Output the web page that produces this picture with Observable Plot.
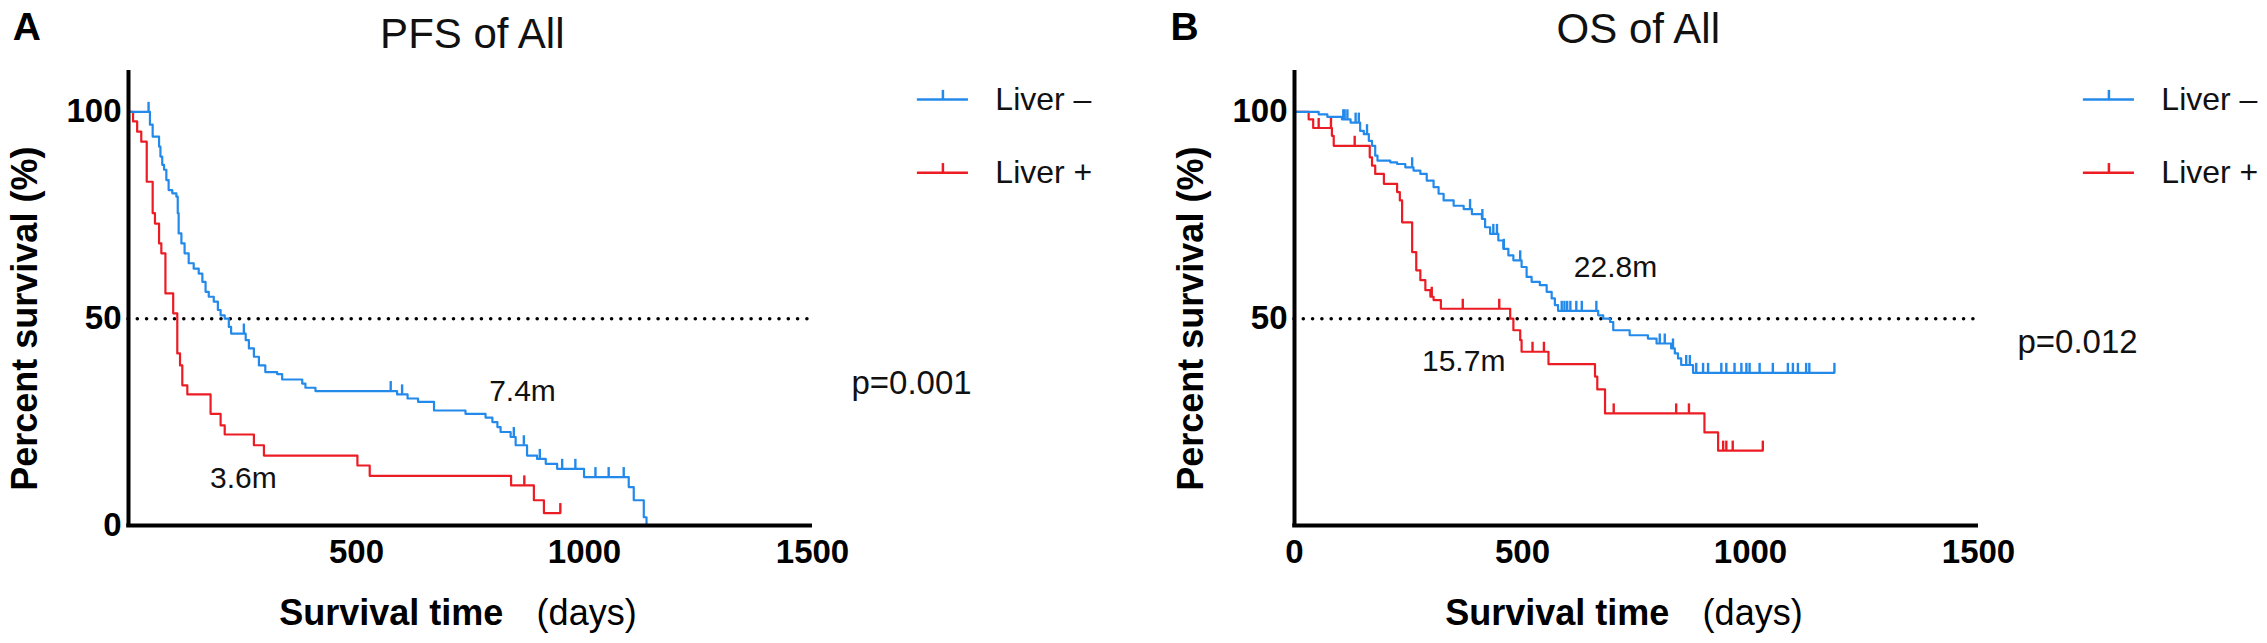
<!DOCTYPE html>
<html><head><meta charset="utf-8">
<script src="https://cdn.jsdelivr.net/npm/d3@7"></script>
<script src="https://cdn.jsdelivr.net/npm/@observablehq/plot@0.6"></script>
<style>
body{margin:0;background:#fff;}
#wrap{display:flex;width:2267px;height:643px;overflow:hidden;}
svg{display:block;}
</style></head><body><div id="wrap"></div>
<script>
// ---------- data ----------
const groups = ["Liver \u2013", "Liver +"];
const colors = ["#2389ea", "#ec1c24"];

// PFS, Liver – : event times (days) and survival (%) after each step
const pfsNegT = [0,47,53,67,70,74,78,83,88,96,105,108,110,116,123,132,143,154,162,169,176,187,196,202,211,220,225,257,264,275,286,300,326,337,381,388,410,589,612,635,670,739,783,798,809,816,838,849,874,896,915,940,999,1097,1108,1130,1136];
const pfsNegS = [100,96.9,94.0,91.6,89.2,87.2,86.0,83.5,81.1,80.3,79.5,75.5,70.6,68.2,65.8,63.4,62.1,60.9,58.9,56.5,55.3,54.1,52.1,50.8,50.0,48.0,46.4,44.8,42.8,40.8,38.7,37.1,36.6,35.3,34.3,33.3,32.5,31.7,30.7,29.9,27.8,27.0,26.1,25.0,23.8,22.6,21.4,19.4,16.9,16.1,14.9,13.7,11.7,9.3,6.1,2.0,0];
const pfsNegCens = [44,253,575,600,845,867,902,951,980,1024,1053,1086];

// PFS, Liver +
const pfsPosT = [0,10,19,28,40,53,58,67,72,81,98,107,113,118,129,180,202,211,275,297,502,529,839,889,911];
const pfsPosS = [100,97.7,95.2,92.8,83.1,75.5,73.0,68.2,65.8,56.1,51.3,41.6,38.7,33.9,31.7,27.0,24.2,22.0,19.4,16.9,14.5,12.0,9.7,6.1,3.0];
const pfsPosCens = [868,947];

// OS, Liver –
const osNegT = [0,53,72,104,123,144,152,163,170,177,182,210,225,243,261,276,290,305,316,327,349,371,389,411,418,429,447,458,469,480,498,509,520,538,553,564,571,578,666,677,692,699,735,775,794,826,834,841,848,874];
const osNegS = [100,99.4,98.8,98.2,97.4,95.4,94.6,93.0,91.8,89.4,88.2,87.8,87.4,86.6,85.8,85.0,83.4,81.8,80.2,78.6,77.3,76.5,75.3,74.1,72.1,70.5,68.9,66.9,65.3,64.1,62.5,60.1,58.9,58.1,56.5,54.9,53.3,51.9,50.8,50.0,49.2,47.2,46.0,45.2,44.0,42.8,41.6,40.4,38.8,36.9];
const osNegCens = [107,110,116,134,141,159,258,385,412,436,444,459,495,586,592,598,605,618,630,662,801,812,830,859,867,881,896,907,936,947,965,980,991,998,1020,1049,1082,1093,1104,1122,1129,1184];

// OS, Liver +
const osPosT = [0,31,41,82,86,165,170,177,196,225,231,236,258,267,276,287,298,305,321,473,480,495,498,557,659,664,681,899,929];
const osPosS = [100,98.2,96.1,94.2,91.8,89.0,87.0,85.0,82.6,80.6,78.6,73.3,66.1,61.7,59.3,56.9,55.3,54.5,52.4,50.0,47.2,44.8,42.0,39.0,36.0,32.9,27.1,22.5,18.1];
const osPosCens = [53,80,132,301,369,449,522,547,700,837,865,940,947,961,1027];

const titles = ["PFS of All", "OS of All"];
const letters = ["A", "B"];
const pValues = ["p=0.001", "p=0.012"];
const medianLabels = [["7.4m", "3.6m"], ["22.8m", "15.7m"]];
const xTicksA = [500, 1000, 1500];
const xTicksB = [0, 500, 1000, 1500];
const yTicksA = [0, 50, 100];
const yTicksB = [50, 100];
const yLabel = "Percent survival (%)";
const xLabelMain = "Survival time";
const xLabelUnit = "(days)";

// ---------- helpers ----------
function stepValue(T, S, t) { let v = S[0]; for (let i = 0; i < T.length; i++) if (T[i] <= t) v = S[i]; return v; }
function curve(T, S, C) {
  const pts = T.map((t, i) => ({t, s: S[i]}));
  const last = Math.max(T[T.length - 1], ...C);
  if (last > T[T.length - 1]) pts.push({t: last, s: S[S.length - 1]});
  return pts;
}
function cens(T, S, C) { return C.map(t => ({t, s: stepValue(T, S, t)})); }

const FONT = "'Liberation Sans', Arial, Helvetica, sans-serif";

function panel(cfg) {
  const W = cfg.width;
  const [neg, pos] = cfg.series;
  const marks = [
    Plot.ruleY([50], {x1: 0, x2: 1490, stroke: "black", strokeWidth: 3.6, strokeDasharray: "0,9.3", strokeLinecap: "round"}),
    Plot.line(curve(...pos), {x: "t", y: "s", curve: "step-after", stroke: colors[1], strokeWidth: 2.2}),
    Plot.ruleX(cens(...pos), {x: "t", y1: "s", y2: d => d.s + 2.3, stroke: colors[1], strokeWidth: 2.4}),
    Plot.line(curve(...neg), {x: "t", y: "s", curve: "step-after", stroke: colors[0], strokeWidth: 2.2}),
    Plot.ruleX(cens(...neg), {x: "t", y1: "s", y2: d => d.s + 2.3, stroke: colors[0], strokeWidth: 2.4}),
    Plot.ruleX([0], {y1: 0, y2: 110, stroke: "black", strokeWidth: 4}),
    Plot.ruleY([0], {x1: -4, x2: 1500, stroke: "black", strokeWidth: 4}),
    Plot.axisX({ticks: cfg.xTicks, tickSize: 0, tickPadding: 14, fontSize: 33, fontWeight: "bold", label: null, tickFormat: d => String(d)}),
    Plot.axisY({ticks: cfg.yTicks, tickSize: 0, tickPadding: 7, fontSize: 33, fontWeight: "bold", label: null, tickFormat: d => String(d)}),
    // legend
    Plot.ruleY([103, 85.3], {x1: 1730, x2: 1842, stroke: (d, i) => colors[i], strokeWidth: 2.5}),
    Plot.ruleX([103, 85.3], {x: 1786, y1: d => d, y2: d => d + 2.2, stroke: (d, i) => colors[i], strokeWidth: 2.5}),
    Plot.text(groups, {x: 1901, y: [103, 85.3], text: d => d, textAnchor: "start", fontSize: 32, fill: "#111"}),
    // title, letter
    Plot.text([cfg.title], {x: 754, y: cfg.titleY, text: d => d, fontSize: 42, fill: "#111"}),
    Plot.text([cfg.letter], {x: cfg.letterX, y: 120.5, text: d => d, textAnchor: "start", fontSize: 39, fontWeight: "bold"}),
    // p value
    Plot.text([cfg.p], {x: 1849, y: cfg.pY, text: d => d, textAnchor: "end", fontSize: 33, fill: "#111"}),
    // medians
    Plot.text(cfg.medians, {x: cfg.medX, y: cfg.medY, text: d => d, fontSize: 30, fill: "#111"}),
    // axis titles
    Plot.text([yLabel], {x: 0, y: 50, dx: -103, rotate: -90, text: d => d, fontSize: 36, fontWeight: "bold"}),
    Plot.text([xLabelMain], {x: 822, y: 0, dy: 88, text: d => d, textAnchor: "end", fontSize: 36, fontWeight: "bold"}),
    Plot.text([xLabelUnit], {x: 895, y: 0, dy: 88, text: d => d, textAnchor: "start", fontSize: 36})
  ];
  return Plot.plot({
    width: W, height: 643,
    marginLeft: 128, marginRight: W - 812, marginTop: 70, marginBottom: 118,
    x: {domain: [0, 1500]},
    y: {domain: [0, 110]},
    style: {fontFamily: FONT, background: "white", color: "black", overflow: "visible"},
    marks
  });
}

const wrap = document.getElementById("wrap");
wrap.append(panel({
  width: 1166, title: titles[0], titleY: 118.8, letter: letters[0], letterX: -254,
  p: pValues[0], pY: 34.3,
  medians: medianLabels[0], medX: [864, 252], medY: [32.4, 11.4],
  xTicks: xTicksA, yTicks: yTicksA,
  series: [[pfsNegT, pfsNegS, pfsNegCens], [pfsPosT, pfsPosS, pfsPosCens]]
}));
wrap.append(panel({
  width: 1101, title: titles[1], titleY: 119.9, letter: letters[1], letterX: -272,
  p: pValues[1], pY: 44.2,
  medians: medianLabels[1], medX: [704, 371], medY: [62.3, 39.6],
  xTicks: xTicksB, yTicks: yTicksB,
  series: [[osNegT, osNegS, osNegCens], [osPosT, osPosS, osPosCens]]
}));
</script></body></html>
